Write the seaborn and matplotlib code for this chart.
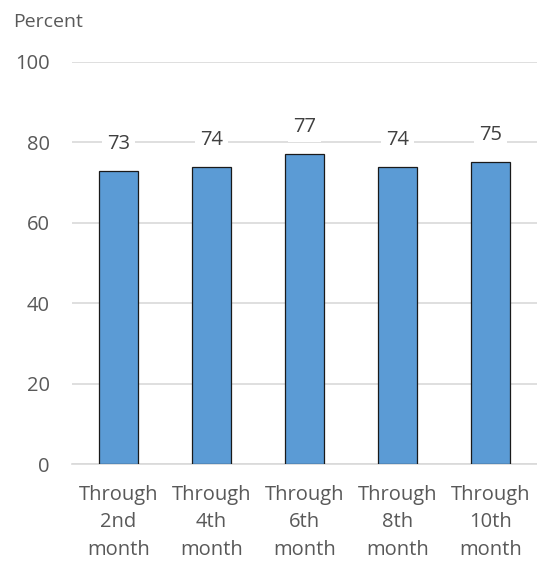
import matplotlib
matplotlib.use("Agg")
import matplotlib.pyplot as plt
import seaborn as sns
import pandas as pd

categories = ["Through\n2nd\nmonth", "Through\n4th\nmonth", "Through\n6th\nmonth",
              "Through\n8th\nmonth", "Through\n10th\nmonth"]
values = [73, 74, 77, 74, 75]
yticks = [0, 20, 40, 60, 80, 100]

sns.set_theme(style="white")
plt.rcParams['font.family'] = ['Open Sans', 'DejaVu Sans']

df = pd.DataFrame({"cat": categories, "val": values})

fig = plt.figure(figsize=(5.37, 5.64), dpi=100)
ax = fig.add_axes([72/537, 1-464/564, 1-72/537, (464-62)/564])

sns.barplot(data=df, x="cat", y="val", ax=ax, color="#5B9BD5", saturation=1,
            width=0.41, edgecolor="#1a1a1a", linewidth=0.9, zorder=3)

ax.set_ylim(0, 100)
ax.set_yticks(yticks)
ax.set_xlim(-0.5, 4.5)
ax.yaxis.grid(True, color="#D9D9D9", linewidth=1.2, zorder=0)
ax.set_axisbelow(True)
for s in ["top", "right", "left"]:
    ax.spines[s].set_visible(False)
ax.spines["bottom"].set_color("#D9D9D9")
ax.spines["bottom"].set_linewidth(1.2)
ax.set_xlabel("")
ax.set_ylabel("")
ax.tick_params(axis="y", length=0, pad=16, labelsize=14.5, labelcolor="#595959")
ax.tick_params(axis="x", length=0, pad=15, labelsize=14.5, labelcolor="#595959")
for lbl in ax.get_xticklabels():
    lbl.set_linespacing(1.5)

for i, v in enumerate(values):
    ax.annotate(f"{v}", (i, v), xytext=(0, 27), textcoords="offset pixels",
                ha="center", va="center", fontsize=14.5, color="#404040",
                bbox=dict(boxstyle="square,pad=0.25", fc="white", ec="none"), zorder=4)

fig.text(13/537, 1-22/564, "Percent", ha="left", va="center", fontsize=14, color="#595959")

fig.savefig("out.png", dpi=100)
